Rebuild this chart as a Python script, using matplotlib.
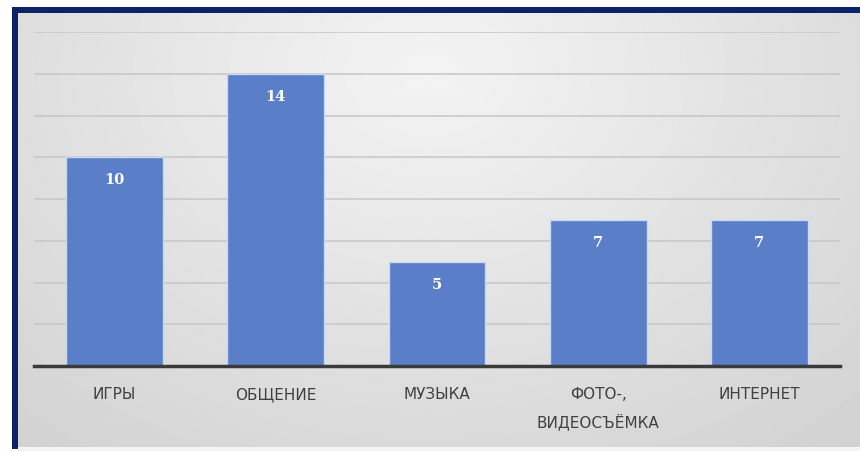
import numpy as np
import matplotlib
matplotlib.use("Agg")
import matplotlib.pyplot as plt
from matplotlib.colors import LinearSegmentedColormap

categories = ["ИГРЫ", "ОБЩЕНИЕ", "МУЗЫКА", "ФОТО-,\nВИДЕОСЪЁМКА", "ИНТЕРНЕТ"]
values = [10, 14, 5, 7, 7]

W, H = 860, 451
fig = plt.figure(figsize=(W / 100, H / 100), dpi=100)
fig.patch.set_facecolor("white")

# soft grey panel background with a radial light spot near the top centre
bg = fig.add_axes([0, 0, 1, 1], zorder=0)
bg.set_xlim(0, W)
bg.set_ylim(H, 0)
bg.axis("off")
yy, xx = np.mgrid[0:H, 0:W]
r = np.sqrt(((xx - 420) / 650.0) ** 2 + ((yy - 60) / 500.0) ** 2)
shade = np.clip(0.955 - 0.13 * r, 0.82, 0.96)
cmap = LinearSegmentedColormap.from_list("g", ["black", "white"])
bg.imshow(shade, cmap=cmap, vmin=0, vmax=1, extent=(18, W, 447, 13),
          interpolation="bilinear", aspect="auto")
# navy frame on top and left
bg.add_patch(plt.Rectangle((12, 7), W - 12, 6, color="#0c2466", lw=0))
bg.add_patch(plt.Rectangle((12, 7), 6, 442, color="#0c2466", lw=0))
bg.add_patch(plt.Rectangle((18, 447), W - 18, 4, color="#f4f4f4", lw=0))

# plotting area
left, right, base, top = 34, 840, 366, 32
ax = fig.add_axes([left / W, (H - base) / H, (right - left) / W, (base - top) / H], zorder=1)
ax.patch.set_alpha(0)
x = np.arange(len(categories))
bars = ax.bar(x, values, width=0.6, color="#5a7fc8", edgecolor="#c9d8f5",
              linewidth=1.0, zorder=3)
ax.set_xlim(-0.5, len(categories) - 0.5)
ax.set_ylim(0, 16)
ax.set_yticks(np.arange(2, 17, 2))
ax.yaxis.grid(True, color="#c6c6c6", linewidth=1.1, zorder=1)
ax.tick_params(axis="y", left=False, labelleft=False)
for s in ["top", "right", "left"]:
    ax.spines[s].set_visible(False)
ax.spines["bottom"].set_color("#3a3a3a")
ax.spines["bottom"].set_linewidth(2.5)
ax.spines["bottom"].set_zorder(4)
ax.set_xticks(x)
ax.set_xticklabels(categories, fontsize=11, color="#404040", linespacing=1.85)
ax.tick_params(axis="x", length=0, pad=15)

for b, v in zip(bars, values):
    ax.annotate(str(v), (b.get_x() + b.get_width() / 2, v), xytext=(0, -23),
                textcoords="offset pixels", ha="center", va="center",
                color="white", fontsize=10.5, fontweight="bold",
                family="DejaVu Serif", zorder=5)

fig.savefig("out.png", dpi=100)
